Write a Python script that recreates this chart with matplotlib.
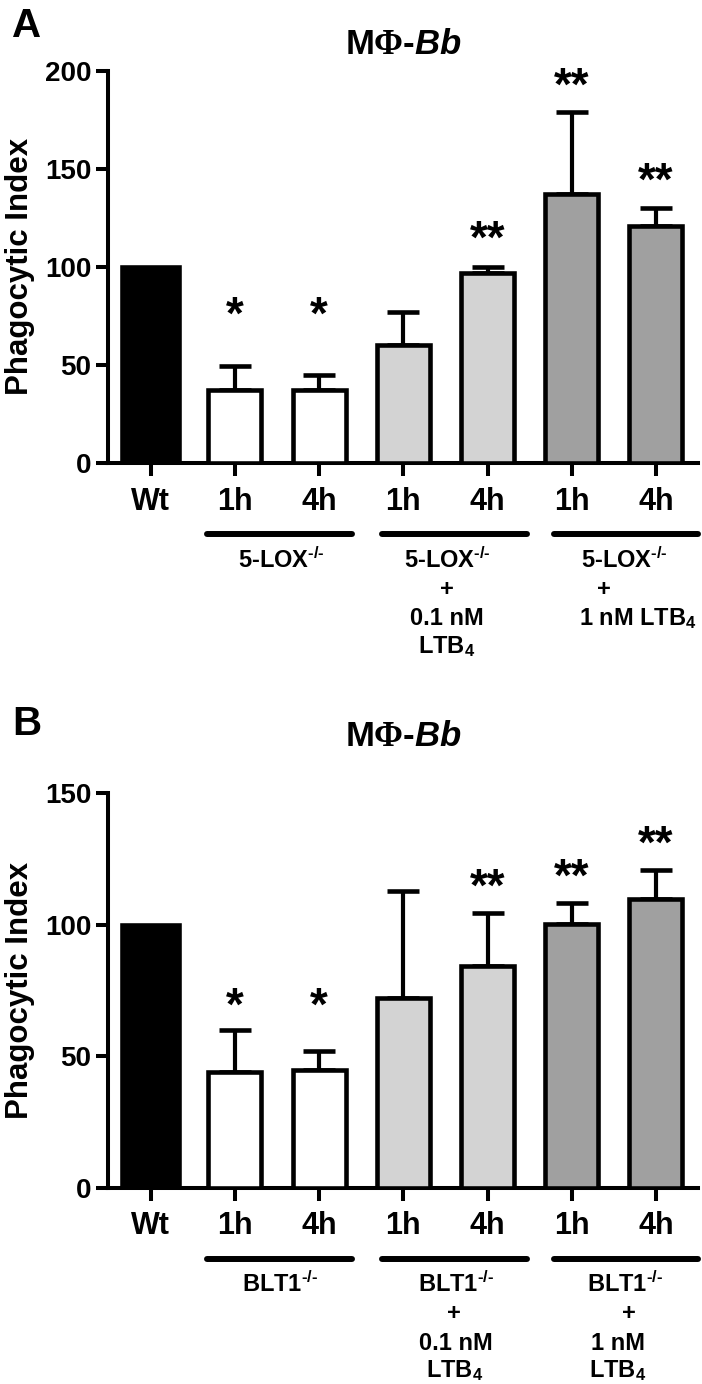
import matplotlib
matplotlib.use("Agg")
import matplotlib.pyplot as plt
import matplotlib.transforms as mtransforms
import numpy as np

plt.rcParams['font.family'] = ['Liberation Sans', 'DejaVu Sans']
plt.rcParams['font.weight'] = 'bold'
plt.rcParams['mathtext.fontset'] = 'custom'
plt.rcParams['mathtext.rm'] = 'Liberation Sans:bold'
plt.rcParams['mathtext.bf'] = 'Liberation Sans:bold'
plt.rcParams['mathtext.it'] = 'Liberation Sans:italic:bold'
plt.rcParams['mathtext.sf'] = 'Liberation Serif'

# ---------------- data ----------------
categories = ["Wt", "1h", "4h", "1h", "4h", "1h", "4h"]
bar_colors = ["black", "white", "white", "#d3d3d3", "#d3d3d3", "#a0a0a0", "#a0a0a0"]

a_means = [100, 37, 37, 60, 97, 137, 121]
a_errs = [0, 12.5, 8, 17, 3, 42, 9]
a_stars = ["", "*", "*", "", "**", "**", "**"]
a_star_y = [0, 80, 80, 0, 119, 197, 148.5]
a_yticks = [0, 50, 100, 150, 200]
a_groups = [["5-LOX$^{\u2010/\u2010}$"],
            ["5-LOX$^{\u2010/\u2010}$", "+", "0.1 nM", "LTB$_4$"],
            ["5-LOX$^{\u2010/\u2010}$", "+", "1 nM LTB$_4$"]]

b_means = [100, 44, 44.7, 72, 84.3, 100.4, 109.7]
b_errs = [0, 16, 7.2, 41, 20.3, 7.9, 11]
b_stars = ["", "*", "*", "", "**", "**", "**"]
b_star_y = [0, 72.5, 72.5, 0, 117.7, 121.5, 134.4]
b_yticks = [0, 50, 100, 150]
b_groups = [["BLT1$^{\u2010/\u2010}$"],
            ["BLT1$^{\u2010/\u2010}$", "+", "0.1 nM", "LTB$_4$"],
            ["BLT1$^{\u2010/\u2010}$", "+", "1 nM", "LTB$_4$"]]

title_text = r"M$\mathsf{\Phi}$-$\mathit{Bb}$"
ylabel_text = "Phagocytic Index"

# ---------------- layout ----------------
W, H = 702, 1384
fig = plt.figure(figsize=(W / 100, H / 100), dpi=100)

PX_PER_UNIT = 84.2
X0_PX = 150.7


def px2x(px):
    return (px - X0_PX) / PX_PER_UNIT


group_line_px = [(207, 352), (382, 527), (554, 698)]
a_text_px = [[281.5], [447, 447, 447, 447], [624.5, 603.5, 637.5]]
b_text_px = [[280], [456, 454, 456, 455], [625, 629, 618, 618]]
baseline_offsets = [105, 133, 162, 190]


def draw_panel(rect, means, errs, stars, star_y, yticks, groups, text_px,
               letter, letter_y_px, title_y_px):
    ax = fig.add_axes(rect)
    x = np.arange(len(categories))
    widths = [0.68] + [0.63] * (len(categories) - 1)
    ax.bar(x, means, width=widths, color=bar_colors, edgecolor='black',
           linewidth=3.3, zorder=3)
    m = np.array(means, dtype=float)
    e = np.array(errs, dtype=float)
    ax.errorbar(x[1:], m[1:], yerr=[np.zeros(len(x) - 1), e[1:]], fmt='none',
                ecolor='black', elinewidth=3.0, capsize=11.5, capthick=3.3,
                zorder=2)
    for xi, s, sy in zip(x, stars, star_y):
        if s:
            ax.annotate(s, xy=(xi, sy), xytext=(0, -23), textcoords='offset pixels',
                        ha='center', va='baseline', fontsize=33, fontweight='bold')
    ax.set_xlim(px2x(108), px2x(698))
    ax.set_ylim(0, yticks[-1])
    ax.set_yticks(yticks)
    ax.set_yticklabels([str(t) for t in yticks], fontsize=20, fontweight='bold')
    ax.set_xticks(x)
    ax.set_xticklabels(categories, fontsize=22, fontweight='bold')
    for side in ['top', 'right']:
        ax.spines[side].set_visible(False)
    for side in ['left', 'bottom']:
        ax.spines[side].set_linewidth(2.9)
    ax.tick_params(axis='both', width=2.9, length=9, direction='out')
    ax.tick_params(axis='y', pad=3)
    ax.tick_params(axis='x', pad=8.0)
    ax.set_ylabel(ylabel_text, fontsize=22.5, fontweight='bold')
    ax.yaxis.set_label_coords(-0.124, 0.5)

    # group lines
    line_tr = mtransforms.offset_copy(ax.get_xaxis_transform(), fig=fig,
                                      x=0, y=-71, units='dots')
    for (p0, p1) in group_line_px:
        ax.plot([px2x(p0), px2x(p1)], [0, 0], transform=line_tr, color='black',
                lw=4.3, solid_capstyle='round', clip_on=False)
    # group labels
    for lines, xs in zip(groups, text_px):
        for li, (s, xp) in enumerate(zip(lines, xs)):
            tr = mtransforms.offset_copy(ax.get_xaxis_transform(), fig=fig,
                                         x=0, y=-baseline_offsets[li], units='dots')
            ax.text(px2x(xp), 0, s, transform=tr, ha='center', va='baseline',
                    fontsize=17, fontweight='bold')

    fig.text(12 / W, 1 - letter_y_px / H, letter, fontsize=29, fontweight='bold',
             ha='left', va='baseline')
    fig.text(403 / W, 1 - title_y_px / H, title_text, fontsize=25,
             fontweight='bold', ha='center', va='baseline')
    return ax


# Panel A: y=0 at 463 px, y=200 at 70.7 px
draw_panel([108 / W, 1 - 463 / H, 590 / W, (463 - 70.7) / H],
           a_means, a_errs, a_stars, a_star_y, a_yticks, a_groups, a_text_px,
           "A", 37, 54)
# Panel B: y=0 at 1187.5 px, y=150 at 793.3 px
draw_panel([108 / W, 1 - 1187.5 / H, 590 / W, (1187.5 - 793.3) / H],
           b_means, b_errs, b_stars, b_star_y, b_yticks, b_groups, b_text_px,
           "B", 735, 746)

fig.savefig("out.png", dpi=100)
